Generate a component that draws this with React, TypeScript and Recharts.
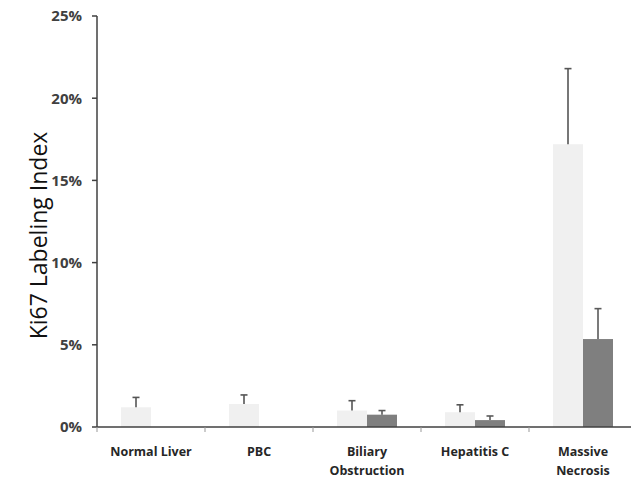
import React from "react";
import { BarChart, Bar, XAxis, YAxis } from "recharts";

const categories = ["Normal Liver", "PBC", "Biliary\nObstruction", "Hepatitis C", "Massive\nNecrosis"];
const lightValues = [1.2, 1.4, 1.0, 0.9, 17.2];
const lightErrors = [0.6, 0.55, 0.6, 0.45, 4.6];
const darkValues: (number | null)[] = [null, null, 0.75, 0.42, 5.35];
const darkErrors = [0, 0, 0.25, 0.25, 1.85];
const yTicks = [0, 5, 10, 15, 20, 25];

const data = categories.map((name, i) => ({
  name,
  light: lightValues[i],
  lightErr: lightErrors[i],
  dark: darkValues[i],
  darkErr: darkErrors[i],
}));

const FONT = "'Open Sans', 'Liberation Sans', sans-serif";

const makeShape = (errKey: string, fill: string, errColor: string) => (props: any) => {
  const { x, y, width, height, payload, value } = props;
  if (x == null || height == null || width == null) return <g />;
  const v = Array.isArray(value) ? value[1] - value[0] : value;
  const err = payload ? payload[errKey] : 0;
  const len = v > 0 && height > 0 ? (err * height) / v : 0;
  const cx = x + width / 2;
  return (
    <g>
      <rect x={x} y={y} width={width} height={height} fill={fill} />
      {len > 0 && (
        <g stroke={errColor} strokeWidth={1.6}>
          <line x1={cx} y1={y} x2={cx} y2={y - len} />
          <line x1={cx - 3.5} y1={y - len} x2={cx + 3.5} y2={y - len} />
        </g>
      )}
    </g>
  );
};

const XTick = (props: any) => {
  const { x, y, payload } = props;
  const half = payload && payload.offset != null ? payload.offset : 54;
  const lines = String(payload.value).split("\n");
  return (
    <g>
      <line x1={x - half} y1={y} x2={x - half} y2={y + 5} stroke="#999" strokeWidth={1} />
      <text
        x={x}
        y={y + 29}
        textAnchor="middle"
        fontFamily={FONT}
        fontSize={12.5}
        fontWeight={700}
        fill="#262626"
      >
        {lines.map((l, i) => (
          <tspan key={i} x={x} dy={i === 0 ? 0 : 19}>
            {l}
          </tspan>
        ))}
      </text>
    </g>
  );
};

export default function App() {
  return (
    <div
      style={{
        position: "fixed",
        left: 0,
        top: 0,
        width: 631,
        height: 479,
        overflow: "hidden",
        background: "#fff",
      }}
    >
      <BarChart
        width={640}
        height={479}
        data={data}
        margin={{ top: 16, right: 3, bottom: 0, left: 0 }}
        barGap={0}
        barSize={30}
      >
        <XAxis
          dataKey="name"
          height={52}
          tick={<XTick />}
          tickLine={false}
          tickSize={0}
          tickMargin={0}
          interval={0}
          axisLine={{ stroke: "#404040", strokeWidth: 1.5 }}
        />
        <YAxis
          width={97}
          domain={[0, 25]}
          ticks={yTicks}
          tickFormatter={(v: number) => `${v}%`}
          tickSize={5}
          tickMargin={10}
          interval={0}
          axisLine={{ stroke: "#404040", strokeWidth: 1.5 }}
          tickLine={{ stroke: "#404040", strokeWidth: 1.5 }}
          tick={{ fontFamily: FONT, fontSize: 15, fontWeight: 700, fill: "#404040" }}
          label={{
            value: "Ki67 Labeling Index",
            angle: -90,
            position: "center",
            dx: -10,
            dy: 14,
            style: { fontFamily: FONT, fontSize: 23, fontWeight: 500, fill: "#111", textAnchor: "middle" },
          }}
        />
        <Bar
          dataKey="light"
          isAnimationActive={false}
          shape={makeShape("lightErr", "#f0f0f0", "#555")}
        />
        <Bar
          dataKey="dark"
          isAnimationActive={false}
          shape={makeShape("darkErr", "#7f7f7f", "#5a5a5a")}
        />
      </BarChart>
    </div>
  );
}
